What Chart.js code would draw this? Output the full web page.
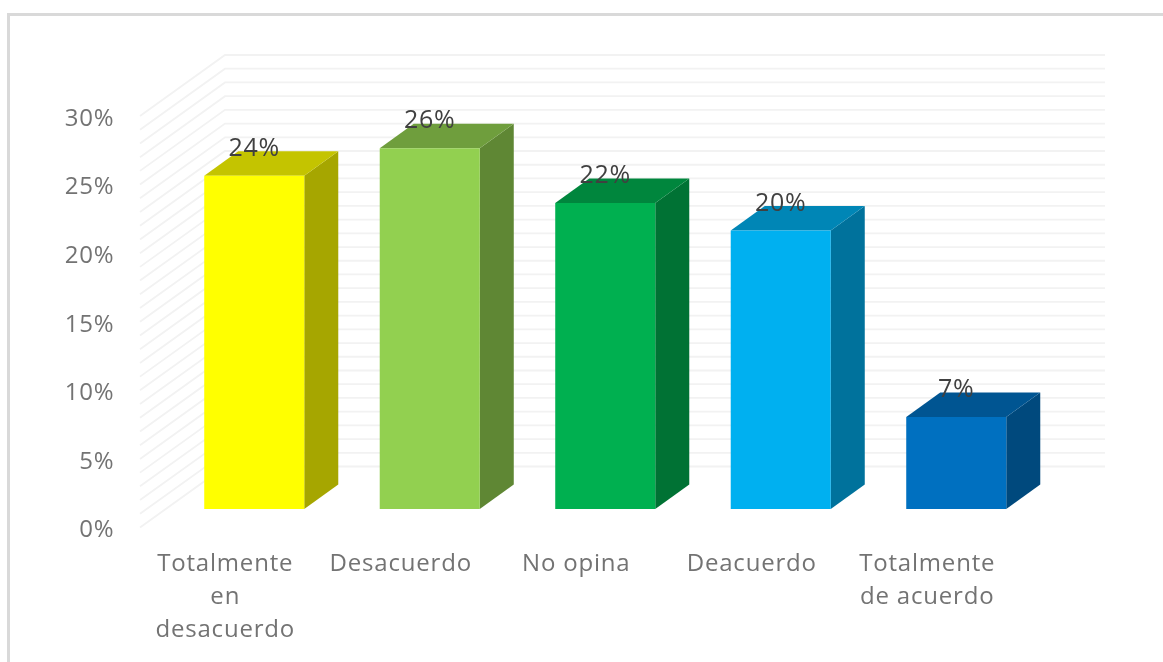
<!DOCTYPE html>
<html><head><meta charset="utf-8">
<style>
html,body{margin:0;padding:0;background:#fff;overflow:hidden}
#frame{position:absolute;left:7px;top:13px;right:-4px;bottom:-4px;border-left:3px solid #d9d9d9;border-top:3px solid #d9d9d9}
canvas{position:absolute;left:0;top:0;filter:blur(0.4px)}
</style>
<script src="https://cdn.jsdelivr.net/npm/chart.js@4"></script>
</head><body>
<div id="frame"></div>
<canvas id="c" width="1163" height="662"></canvas>
<script>
const categories = [['Totalmente','en','desacuerdo'],'Desacuerdo','No opina','Deacuerdo',['Totalmente','de acuerdo']];
const values = [24.3, 26.3, 22.3, 20.3, 6.7];
const valueLabels = ['24%','26%','22%','20%','7%'];
const frontColors = ['#FFFF00','#92D050','#00B050','#00B0F0','#0070C0'];
const sideColors = ['#A6A600','#5F8734','#007234','#00729C','#00497D'];
const topColors = ['#C4C400','#6F9E3D','#00863D','#0086B6','#005592'];

const FONT = '"Open Sans", sans-serif';
const wall = {x0:2.5, y0:-3, dx:85, dy:61, right:1105};
const barShift = {x:29, y:-21.5};
const depth = {x:34, y:-24.5};

const threeD = {
  id:'threeD',
  beforeDraw(chart){ chart.ctx.letterSpacing='0.8px'; },
  beforeDatasetsDraw(chart){
    const {ctx,scales:{y}}=chart;
    const xa=chart.chartArea.left+wall.x0, xb=xa+wall.dx;
    ctx.save();
    ctx.strokeStyle='#f2f2f2'; ctx.lineWidth=1.8;
    y.ticks.forEach(t=>{
      const py=y.getPixelForValue(t.value)+wall.y0;
      ctx.beginPath();
      ctx.moveTo(xa,py); ctx.lineTo(xb,py-wall.dy); ctx.lineTo(wall.right,py-wall.dy);
      ctx.stroke();
    });
    ctx.restore();
  },
  beforeDatasetDraw(chart,args){
    const {ctx}=chart;
    ctx.save();
    ctx.translate(barShift.x,barShift.y);
    chart.getDatasetMeta(args.index).data.forEach((b,i)=>{
      const l=b.x-b.width/2, r=b.x+b.width/2, t=b.y, base=b.base;
      ctx.fillStyle=sideColors[i];
      ctx.beginPath();
      ctx.moveTo(r,t);ctx.lineTo(r+depth.x,t+depth.y);ctx.lineTo(r+depth.x,base+depth.y);ctx.lineTo(r,base);ctx.closePath();ctx.fill();
      ctx.fillStyle=topColors[i];
      ctx.beginPath();
      ctx.moveTo(l,t);ctx.lineTo(l+depth.x,t+depth.y);ctx.lineTo(r+depth.x,t+depth.y);ctx.lineTo(r,t);ctx.closePath();ctx.fill();
    });
  },
  afterDatasetDraw(chart,args){
    const {ctx}=chart;
    ctx.font='25px '+FONT;
    ctx.fillStyle='#404040';
    ctx.textAlign='center';ctx.textBaseline='middle';
    chart.getDatasetMeta(args.index).data.forEach((b,i)=>{
      ctx.fillText(valueLabels[i],b.x,b.y-27);
    });
    ctx.restore();
  }
};

new Chart(document.getElementById('c'),{
  type:'bar',
  data:{labels:categories,datasets:[{data:values,backgroundColor:frontColors,categoryPercentage:1,barPercentage:0.57}]},
  plugins:[threeD],
  options:{
    responsive:false,animation:false,
    layout:{padding:{top:119,right:148,bottom:0,left:0}},
    plugins:{legend:{display:false},tooltip:{enabled:false},title:{display:false}},
    scales:{
      x:{
        grid:{display:false},border:{display:false},
        afterFit(s){s.height=131.5;},
        ticks:{autoSkip:false,maxRotation:0,minRotation:0,padding:9,color:'#737373',font:{family:FONT,size:24,lineHeight:'33px'}}
      },
      y:{
        min:0,max:30,
        grid:{display:false},border:{display:false},
        afterFit(s){s.width=137.5;},
        ticks:{stepSize:1,autoSkip:false,padding:15,color:'#737373',font:{family:FONT,size:24},
          callback(v){return v%5===0?v+'%':'';}}
      }
    }
  }
});
</script>
</body></html>
